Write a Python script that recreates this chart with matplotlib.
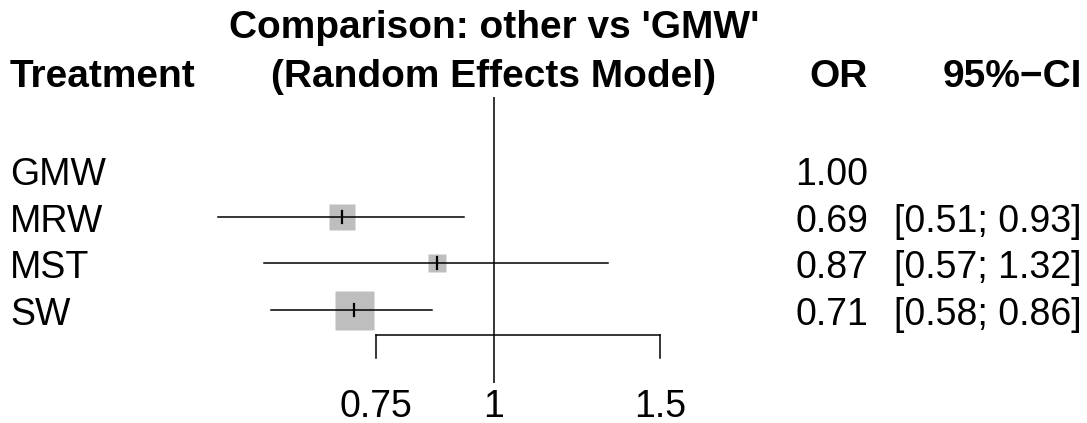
import numpy as np
import matplotlib
matplotlib.use("Agg")
import matplotlib.pyplot as plt
import matplotlib.transforms as mtransforms

plt.rcParams['font.family'] = ['Liberation Sans', 'DejaVu Sans']

# datos del forest plot
tratamientos = ["GMW", "MRW", "MST", "SW"]
odds_ratio = [1.00, 0.69, 0.87, 0.71]
ci_inf = [None, 0.51, 0.57, 0.58]
ci_sup = [None, 0.93, 1.32, 0.86]
pesos = [None, 26.4, 14.1, 59.5]
ticks = [0.75, 1, 1.5]
tick_labels = ["0.75", "1", "1.5"]

W, H = 1087, 423
fs = 27
fs_b = 28

fig = plt.figure(figsize=(W / 100, H / 100), dpi=100)
ax = fig.add_axes([0, 0, 1, 1])
ax.set_xscale('log')
# 1 -> px 494, 410 px por unidad log
ax.set_xlim(np.exp(-494 / 410), np.exp((W - 494) / 410))
paso = 46.7
ax.set_ylim((H - 170) / paso, -170 / paso)
ax.axis('off')


def py(p):
    # pixel vertical -> unidades de fila
    return (p - 170) / paso


blend = mtransforms.blended_transform_factory(ax.transAxes, ax.transData)
base = 15 / paso  # desplazamiento centro de fila -> linea base del texto

# linea de referencia en 1
ax.plot([1, 1], [py(97), py(383)], color='black', lw=1.1, solid_capstyle='butt')

# eje inferior
ax.plot([ticks[0], ticks[-1]], [py(335), py(335)], color='black', lw=1.1)
for t, lab in zip(ticks, tick_labels):
    if t != 1:
        ax.plot([t, t], [py(335), py(358)], color='black', lw=1.1)
    ax.text(t, py(417), lab, ha='center', va='baseline', fontsize=fs)

w_max = max(p for p in pesos if p is not None)
for i, trat in enumerate(tratamientos):
    ax.text(10 / W, i + base, trat, transform=blend, ha='left', va='baseline',
            fontsize=fs)
    ax.text(868 / W, i + base, f"{odds_ratio[i]:.2f}", transform=blend,
            ha='right', va='baseline', fontsize=fs)
    if ci_inf[i] is None:
        continue
    ax.text(1082 / W, i + base, f"[{ci_inf[i]:.2f}; {ci_sup[i]:.2f}]",
            transform=blend, ha='right', va='baseline', fontsize=fs)
    ax.plot([ci_inf[i], ci_sup[i]], [i, i], color='black', lw=1.1, zorder=2)
    lado = 39 * np.sqrt(pesos[i] / w_max) * 0.72
    ax.plot(odds_ratio[i], i, marker='s', ms=lado, mfc='#bebebe', mec='none',
            zorder=1)
    ax.plot([odds_ratio[i]] * 2, [i - 6 / paso, i + 6 / paso], color='black',
            lw=1.6, zorder=3)

# cabeceras
ax.text(10 / W, py(87), "Treatment", transform=blend, ha='left',
        va='baseline', fontsize=fs_b, fontweight='bold')
ax.text(1, py(38), "Comparison: other vs 'GMW'", ha='center', va='baseline',
        fontsize=fs_b, fontweight='bold')
ax.text(1, py(87), "(Random Effects Model)", ha='center', va='baseline',
        fontsize=fs_b, fontweight='bold')
ax.text(868 / W, py(87), "OR", transform=blend, ha='right', va='baseline',
        fontsize=fs_b, fontweight='bold')
ax.text(1082 / W, py(87), "95%\u2212CI", transform=blend, ha='right',
        va='baseline', fontsize=fs_b, fontweight='bold')

fig.savefig("out.png", dpi=100)
